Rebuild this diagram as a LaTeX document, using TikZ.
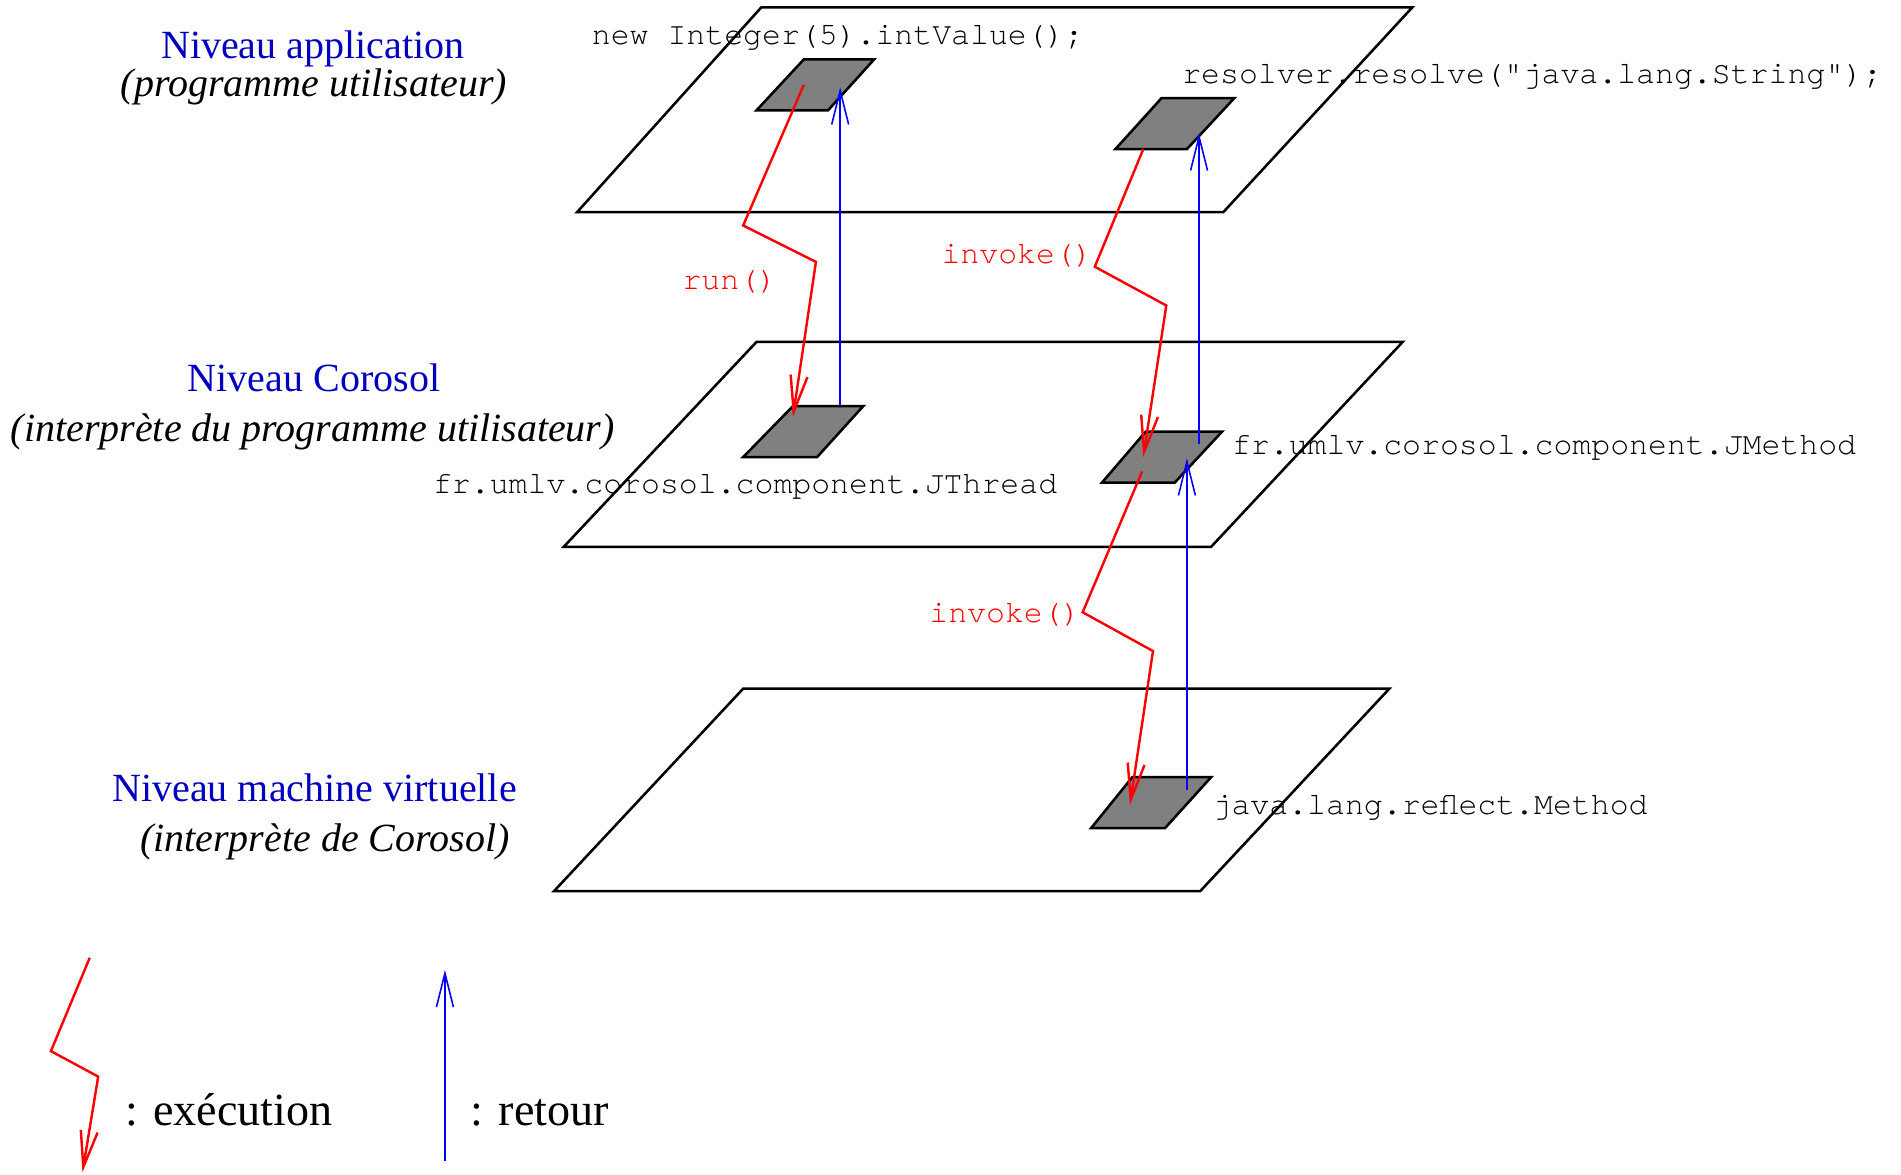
\documentclass[tikz,border=0pt]{standalone}
\usepackage{fontspec}
\setmainfont{Liberation Serif}
\newfontfamily\codefont{TeX Gyre Cursor}
\usetikzlibrary{arrows.meta}
\definecolor{levelblue}{RGB}{0,0,190}
\definecolor{slotgray}{RGB}{128,128,128}

\tikzset{
  plane/.style={draw=black, line width=2.1pt, line join=miter},
  slot/.style={draw=black, fill=slotgray, line width=2.1pt, line join=miter},
  exec/.style={draw=red, line width=2pt, line join=miter,
    -{Straight Barb[length=30pt,width=14pt]}},
  ret/.style={draw=blue, line width=1.3pt,
    -{Straight Barb[length=28pt,width=14pt]}},
  level/.style={font=\fontsize{33}{38}\selectfont, text=levelblue, anchor=base, inner sep=0pt},
  levelnote/.style={font=\fontsize{33}{38}\selectfont\itshape, anchor=base, inner sep=0pt},
  code/.style={font=\codefont\fontsize{26}{30}\selectfont, anchor=base west, inner sep=0pt},
  call/.style={font=\codefont\fontsize{26}{30}\selectfont, text=red, anchor=base, inner sep=0pt},
  legendtext/.style={font=\fontsize{38}{44}\selectfont, anchor=base west, inner sep=0pt}
}

\begin{document}
\begin{tikzpicture}[x=1pt,y=-1pt]
\useasboundingbox (0,0) rectangle (1568,969);

% the three levels
\draw[plane] (628,6) -- (1165,6) -- (1009,175) -- (476,175) -- cycle;
\draw[plane] (624,282) -- (1157,282) -- (999,451) -- (465,451) -- cycle;
\draw[plane] (613,568) -- (1146,568) -- (990,735) -- (457,735) -- cycle;

% components on each level
\draw[slot] (663,49) -- (721,49) -- (683,91) -- (624,91) -- cycle;
\draw[slot] (958,81) -- (1018,81) -- (979,123) -- (920,123) -- cycle;
\draw[slot] (654,335) -- (712,335) -- (674,377) -- (613,377) -- cycle;
\draw[slot] (945,356) -- (1008,356) -- (969,398) -- (909,398) -- cycle;
\draw[slot] (934,641) -- (999,641) -- (961,683) -- (900,683) -- cycle;

% level titles
\node[level] (appT) at (258,48) {Niveau application};
\node[levelnote] (appN) at (259,80) {(programme utilisateur)};
\node[level] (coroT) at (259,323) {Niveau Corosol};
\node[levelnote] (coroN) at (258,364) {(interprète du programme utilisateur)};
\node[level] (vmT) at (259.5,661) {Niveau machine virtuelle};
\node[levelnote] (vmN) at (268,702.5) {(interprète de Corosol)};

% code labels
\node[code] (intv) at (488,37) {new Integer(5).intValue();};
\node[code] (resv) at (975,69) {resolver.resolve("java.lang.String");};
\node[code] (jthr) at (357,407) {fr.umlv.corosol.component.JThread};
\node[code] (jmet) at (1016,375) {fr.umlv.corosol.component.JMethod};
\node[code] (jref) at (1000,672) {java.lang.reflect.Method};

% call labels
\node[call] (runL) at (602,239) {run()};
\node[call] (invA) at (839,217) {invoke()};
\node[call] (invB) at (829,513.5) {invoke()};

% execution paths
\coordinate (runS) at (663,70);
\coordinate (runK) at (613,186);
\coordinate (runJ) at (673,216);
\coordinate (runE) at (654,344);
\draw[exec] (runS) -- (runK) -- (runJ) -- (runE);

\coordinate (ivaS) at (943,123);
\coordinate (ivaK) at (903,220);
\coordinate (ivaJ) at (962,252);
\coordinate (ivaE) at (943,377);
\draw[exec] (ivaS) -- (ivaK) -- (ivaJ) -- (ivaE);

\coordinate (ivbS) at (942,389);
\coordinate (ivbK) at (893,505);
\coordinate (ivbJ) at (951,537);
\coordinate (ivbE) at (932,664);
\draw[exec] (ivbS) -- (ivbK) -- (ivbJ) -- (ivbE);

% return paths
\coordinate (rtaS) at (693,334);
\coordinate (rtaE) at (693,72);
\draw[ret] (rtaS) -- (rtaE);
\coordinate (rtbS) at (989,366);
\coordinate (rtbE) at (989,110);
\draw[ret] (rtbS) -- (rtbE);
\coordinate (rtcS) at (979,652);
\coordinate (rtcE) at (979,378);
\draw[ret] (rtcS) -- (rtcE);

% legend
\coordinate (lgS) at (74,790);
\coordinate (lgK) at (42,867);
\coordinate (lgJ) at (81,888);
\coordinate (lgE) at (68,967);
\draw[exec] (lgS) -- (lgK) -- (lgJ) -- (lgE);
\node[legendtext] (lgExec) at (103,928) {: exécution};

\coordinate (lrS) at (367,958);
\coordinate (lrE) at (367,800);
\draw[ret] (lrS) -- (lrE);
\node[legendtext] (lgRet) at (388,928) {: retour};
\end{tikzpicture}
\end{document}
